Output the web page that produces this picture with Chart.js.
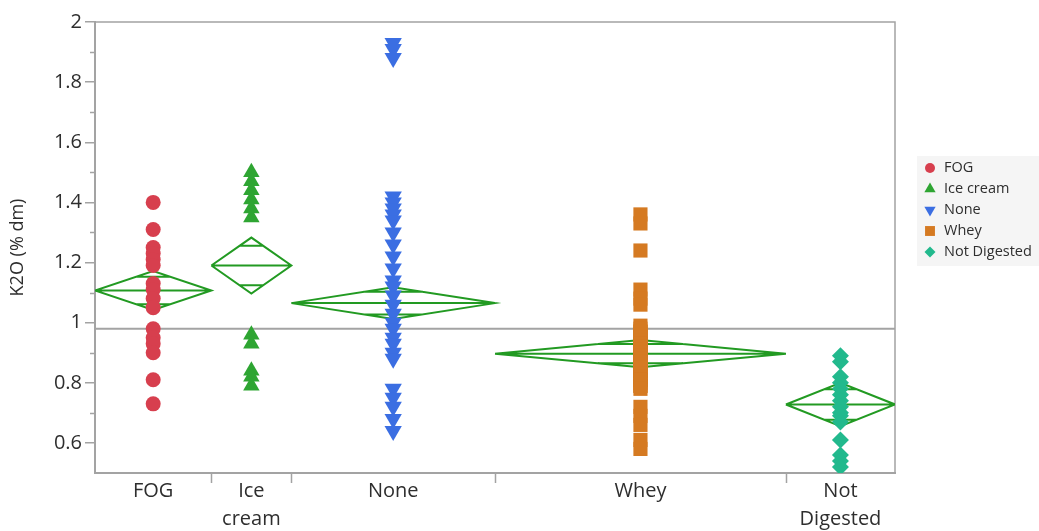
<!DOCTYPE html>
<html>
<head>
<meta charset="utf-8">
<title>K2O by additive</title>
<script src="https://cdn.jsdelivr.net/npm/chart.js@4.4.1/dist/chart.umd.min.js"></script>
<style>
  html, body { margin: 0; padding: 0; background: #ffffff; }
  #wrap { width: 1039px; height: 531px; }
</style>
</head>
<body>
<div id="wrap"><canvas id="chart" width="1039" height="531"></canvas></div>
<script>
// Groups along the x axis (each group's width is proportional to its sample count)
const groups = ['FOG', 'Ice cream', 'None', 'Whey', 'Not Digested'];
const groupTickLabels = [['FOG'], ['Ice', 'cream'], ['None'], ['Whey'], ['Not', 'Digested']];

// K2O (% dm) observations per group
const fogK2O = [1.40, 1.31, 1.25, 1.23, 1.21, 1.19, 1.13, 1.11, 1.08, 1.05, 0.98, 0.95, 0.93, 0.90, 0.81, 0.73];
const iceCreamK2O = [1.50, 1.47, 1.44, 1.41, 1.38, 1.35, 0.96, 0.93, 0.84, 0.82, 0.79];
const noneK2O = [1.93, 1.91, 1.88, 1.42, 1.40, 1.38, 1.36, 1.34, 1.30, 1.26, 1.22, 1.18, 1.14, 1.12,
                 1.09, 1.06, 1.03, 1.00, 0.98, 0.95, 0.93, 0.90, 0.88, 0.78, 0.75, 0.72, 0.68, 0.64];
const wheyK2O = [1.36, 1.33, 1.24, 1.11, 1.08, 1.06,
                 0.99, 0.98, 0.97, 0.97, 0.96, 0.95, 0.94, 0.93, 0.93, 0.92, 0.91, 0.90, 0.90, 0.89, 0.88,
                 0.87, 0.87, 0.86, 0.85, 0.84, 0.84, 0.83, 0.82, 0.81, 0.81, 0.80, 0.79, 0.79, 0.78,
                 0.72, 0.69, 0.66, 0.61, 0.58];
const notDigestedK2O = [0.89, 0.87, 0.82, 0.80, 0.78, 0.76, 0.74, 0.72, 0.70, 0.69, 0.67, 0.61, 0.56, 0.54, 0.52];

// Group means and 95% confidence half-widths (means diamonds), plus the grand mean
const groupMeans = [1.107, 1.19, 1.065, 0.897, 0.728];
const groupCI95 = [0.065, 0.093, 0.053, 0.045, 0.072];
const grandMean = 0.98;

// Y axis ticks
const yTickValues = [0.6, 0.8, 1, 1.2, 1.4, 1.6, 1.8, 2];
const yMinorTickValues = [0.7, 0.9, 1.1, 1.3, 1.5, 1.7, 1.9];

const groupValues = [fogK2O, iceCreamK2O, noneK2O, wheyK2O, notDigestedK2O];
const groupColors = ['#d73f4e', '#2ea532', '#3b6ee2', '#d57a22', '#22b98d'];
const groupStyles = ['circle', 'triangle', 'triangle', 'rect', 'rectRot'];
const groupRotations = [0, 0, 180, 0, 0];
const groupRadius = [7.5, 9.5, 10, 10, 8.5];
const legendRadius = [5, 6.5, 6.5, 7, 5.5];
const diamondColor = '#229a22';
const axisColor = '#a3a3a3';
const textColor = '#2e2e2e';
const fontFamily = '"Open Sans", "Noto Sans", sans-serif';

// Cumulative group boundaries on the x scale
const bounds = [0];
groupValues.forEach(v => bounds.push(bounds[bounds.length - 1] + v.length));
const centers = groupValues.map((v, i) => (bounds[i] + bounds[i + 1]) / 2);

function diamondPoints(i) {
  const x0 = bounds[i], x1 = bounds[i + 1], xc = centers[i];
  const m = groupMeans[i], h = groupCI95[i];
  const halfW = (x1 - x0) / 2;
  const om = h * Math.SQRT1_2;               // overlap mark offset
  const ow = halfW * (1 - Math.SQRT1_2);     // diamond half-width at that height
  const gap = { x: xc, y: null };
  return [
    { x: x0, y: m }, { x: xc, y: m + h }, { x: x1, y: m }, { x: xc, y: m - h }, { x: x0, y: m }, gap,
    { x: x0, y: m }, { x: x1, y: m }, gap,
    { x: xc - ow, y: m + om }, { x: xc + ow, y: m + om }, gap,
    { x: xc - ow, y: m - om }, { x: xc + ow, y: m - om }
  ];
}

const pointDatasets = groups.map((g, i) => ({
  type: 'scatter',
  label: g,
  data: groupValues[i].map(v => ({ x: centers[i], y: v })),
  backgroundColor: groupColors[i],
  borderColor: groupColors[i],
  borderWidth: 0,
  pointStyle: groupStyles[i],
  pointRotation: groupRotations[i],
  pointRadius: groupRadius[i],
  pointHoverRadius: groupRadius[i],
  order: 1
}));

const diamondDatasets = groups.map((g, i) => ({
  type: 'scatter',
  label: g + ' mean',
  data: diamondPoints(i),
  showLine: true,
  spanGaps: false,
  borderColor: diamondColor,
  borderWidth: 2,
  pointRadius: 0,
  pointHoverRadius: 0,
  order: 5
}));

const grandMeanDataset = {
  type: 'scatter',
  label: 'Grand mean',
  data: [{ x: bounds[0], y: grandMean }, { x: bounds[bounds.length - 1], y: grandMean }],
  showLine: true,
  borderColor: axisColor,
  borderWidth: 2,
  pointRadius: 0,
  pointHoverRadius: 0,
  order: 6
};

// Frame, boundary ticks on x, minor ticks on y
const framePlugin = {
  id: 'frame',
  beforeDatasetsDraw(chart) {
    const { ctx, chartArea: a, scales: { x, y } } = chart;
    ctx.save();
    ctx.strokeStyle = axisColor;
    ctx.lineWidth = 1.5;
    ctx.beginPath();
    ctx.moveTo(a.left, a.top); ctx.lineTo(a.right, a.top); ctx.lineTo(a.right, a.bottom);
    ctx.stroke();
    ctx.beginPath();
    bounds.slice(1, -1).forEach(b => {
      const px = Math.round(x.getPixelForValue(b)) + 0.5;
      ctx.moveTo(px, a.bottom); ctx.lineTo(px, a.bottom + 10);
    });
    yMinorTickValues.forEach(v => {
      const py = Math.round(y.getPixelForValue(v)) + 0.5;
      ctx.moveTo(a.left - 5, py); ctx.lineTo(a.left, py);
    });
    ctx.stroke();
    ctx.restore();
  }
};

// Legend box on the right
const legendPlugin = {
  id: 'groupLegend',
  afterDraw(chart) {
    const ctx = chart.ctx;
    ctx.save();
    ctx.fillStyle = '#f5f5f5';
    ctx.fillRect(917, 156, 122, 110);
    ctx.font = '14.5px ' + fontFamily;
    ctx.textBaseline = 'middle';
    ctx.textAlign = 'left';
    groups.forEach((g, i) => {
      const yy = 168 + i * 21;
      ctx.fillStyle = groupColors[i];
      Chart.helpers.drawPoint(ctx, {
        pointStyle: groupStyles[i], rotation: groupRotations[i], radius: legendRadius[i], borderWidth: 0
      }, 930, yy);
      ctx.fillStyle = textColor;
      ctx.fillText(g, 944, yy);
    });
    ctx.restore();
  }
};

new Chart(document.getElementById('chart'), {
  type: 'scatter',
  data: { datasets: [...pointDatasets, ...diamondDatasets, grandMeanDataset] },
  options: {
    responsive: false,
    animation: false,
    devicePixelRatio: 1,
    layout: { padding: { top: 22, right: 144, left: 0, bottom: 0 } },
    plugins: {
      legend: { display: false },
      tooltip: { enabled: false }
    },
    scales: {
      x: {
        type: 'linear',
        min: bounds[0],
        max: bounds[bounds.length - 1],
        afterBuildTicks: s => { s.ticks = centers.map(v => ({ value: v })); },
        afterFit: s => { s.height = 58; },
        ticks: {
          autoSkip: false,
          maxRotation: 0,
          padding: 4,
          color: textColor,
          font: { family: fontFamily, size: 20, lineHeight: 1.42 },
          callback: (v, i) => groupTickLabels[i]
        },
        grid: { display: true, drawOnChartArea: false, drawTicks: false },
        border: { color: axisColor, width: 2 }
      },
      y: {
        type: 'linear',
        min: 0.5,
        max: 2,
        afterBuildTicks: s => { s.ticks = yTickValues.map(v => ({ value: v })); },
        afterFit: s => { s.width = 95; },
        ticks: {
          padding: 3,
          color: textColor,
          font: { family: fontFamily, size: 20 },
          callback: v => String(v)
        },
        grid: { drawOnChartArea: false, tickLength: 10, color: axisColor, lineWidth: 1.5 },
        border: { color: axisColor, width: 2 },
        title: {
          display: true,
          text: 'K2O (% dm)',
          color: textColor,
          font: { family: fontFamily, size: 18 },
          padding: { top: 7, bottom: 0 }
        }
      }
    }
  },
  plugins: [framePlugin, legendPlugin]
});
</script>
</body>
</html>
